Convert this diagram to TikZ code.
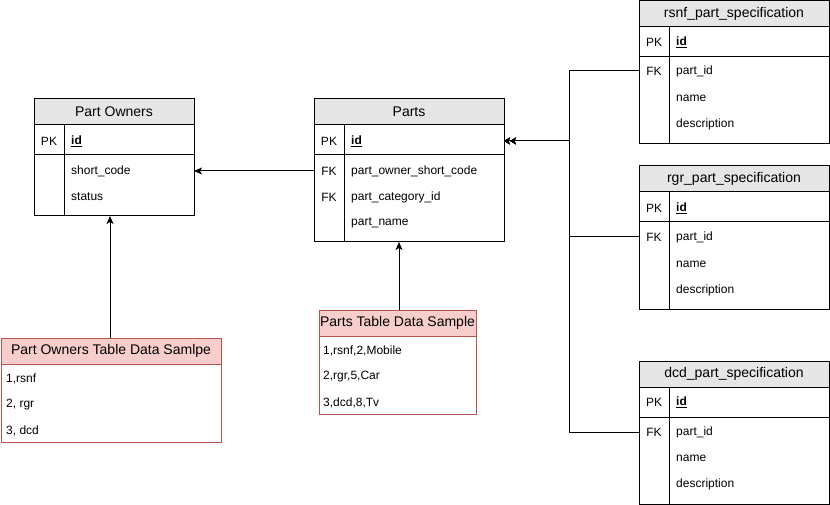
\documentclass[tikz,border=0pt]{standalone}
\usepackage{fontspec}
\setmainfont{Liberation Sans}
\usetikzlibrary{arrows.meta}
\definecolor{hdrgray}{HTML}{E6E6E6}
\definecolor{pinkfill}{HTML}{F8CECC}
\definecolor{pinkline}{HTML}{B85450}
\tikzset{
  tbl/.style={draw, fill=white, line width=1pt, anchor=north west, inner sep=0pt, outer sep=0pt},
  hdr/.style={draw, fill=hdrgray, line width=1pt, anchor=north west, inner sep=0pt, outer sep=0pt, minimum height=26pt, font=\fontsize{14}{16}\selectfont},
  tline/.style={line width=1pt},
  keytxt/.style={font=\fontsize{12}{14}\selectfont, inner sep=0pt, anchor=center, yshift=-1pt},
  fld/.style={font=\fontsize{12}{14}\selectfont, inner sep=0pt, anchor=west, yshift=-1pt},
  sbox/.style={draw=pinkline, fill=white, line width=1pt, anchor=north west, inner sep=0pt, outer sep=0pt},
  shdr/.style={draw=pinkline, fill=pinkfill, line width=1pt, anchor=north west, inner sep=0pt, outer sep=0pt, minimum height=26pt, font=\fontsize{14}{16}\selectfont},
  arr/.style={line width=1pt, -{Stealth[length=8pt,width=7pt,inset=2pt]}},
  dblarr/.style={line width=1pt, -{Stealth[length=6pt,width=7pt,inset=1.5pt]Stealth[length=6pt,width=7pt,inset=1.5pt]}},
}
% #1 name, #2 x, #3 y, #4 width, #5 height, #6 title
\newcommand\ertable[6]{%
  \node[tbl, minimum width=#4pt, minimum height=#5pt] (#1) at (#2,#3) {};
  \node[hdr, minimum width=#4pt] (#1-title) at (#2,#3) {\raisebox{-1pt}{#6}};
  \draw[tline] (#2,#3+56) -- ++(#4,0);
  \draw[tline] (#2+30,#3+26) -- (#2+30,#3+#5);
}
% #1 name, #2 x, #3 y, #4 width, #5 height, #6 title
\newcommand\sampletable[6]{%
  \node[sbox, minimum width=#4pt, minimum height=#5pt] (#1) at (#2,#3) {};
  \node[shdr, minimum width=#4pt] (#1-title) at (#2,#3) {\raisebox{-1pt}{#6}};
}
\newcommand\pkid{\underline{\textbf{id}}}
\begin{document}
\begin{tikzpicture}[x=1pt,y=-1pt]
\path[use as bounding box, fill=white] (0,0) rectangle (830,505);

% Part Owners
\ertable{po}{34}{99}{160}{117}{Part Owners}
\node[keytxt] (po-k0) at (34+15,140) {PK};
\node[fld] (po-r0) at (34+37,140) {\pkid};
\node[fld] (po-r1) at (34+37,170) {short\_code};
\node[fld] (po-r2) at (34+37,196) {status};

% Parts
\ertable{pa}{314}{99}{190}{143}{Parts}
\node[keytxt] (pa-k0) at (314+15,140) {PK};
\node[fld] (pa-r0) at (314+37,140) {\pkid};
\node[keytxt] (pa-k1) at (314+15,170) {FK};
\node[fld] (pa-r1) at (314+37,170) {part\_owner\_short\_code};
\node[keytxt] (pa-k2) at (314+15,196) {FK};
\node[fld] (pa-r2) at (314+37,196) {part\_category\_id};
\node[fld] (pa-r3) at (314+37,222) {part\_name};

% rsnf
\ertable{rs}{639}{1}{190}{143}{rsnf\_part\_specification}
\node[keytxt] (rs-k0) at (639+15,41) {PK};
\node[fld] (rs-r0) at (639+37,41) {\pkid};
\node[keytxt] (rs-k1) at (639+15,70) {FK};
\node[fld] (rs-r1) at (639+37,70) {part\_id};
\node[fld] (rs-r2) at (639+37,97) {name};
\node[fld] (rs-r3) at (639+37,123) {description};

% rgr
\ertable{rg}{639}{166}{190}{143}{rgr\_part\_specification}
\node[keytxt] (rg-k0) at (639+15,207) {PK};
\node[fld] (rg-r0) at (639+37,207) {\pkid};
\node[keytxt] (rg-k1) at (639+15,236) {FK};
\node[fld] (rg-r1) at (639+37,236) {part\_id};
\node[fld] (rg-r2) at (639+37,263) {name};
\node[fld] (rg-r3) at (639+37,289) {description};

% dcd
\ertable{dc}{639}{361}{190}{143}{dcd\_part\_specification}
\node[keytxt] (dc-k0) at (639+15,401) {PK};
\node[fld] (dc-r0) at (639+37,401) {\pkid};
\node[keytxt] (dc-k1) at (639+15,431) {FK};
\node[fld] (dc-r1) at (639+37,431) {part\_id};
\node[fld] (dc-r2) at (639+37,457) {name};
\node[fld] (dc-r3) at (639+37,483) {description};

% Part Owners sample
\sampletable{pos}{1}{338}{220}{104}{Part Owners Table Data Samlpe}
\node[fld] (pos-r1) at (1+5,378) {1,rsnf};
\node[fld] (pos-r2) at (1+5,404) {2, rgr};
\node[fld] (pos-r3) at (1+5,430) {3, dcd};

% Parts sample
\sampletable{pas}{319}{310}{157}{104}{Parts Table Data Sample}
\node[fld] (pas-r1) at (319+4,350) {1,rsnf,2,Mobile};
\node[fld] (pas-r2) at (319+4,376) {2,rgr,5,Car};
\node[fld] (pas-r3) at (319+4,402) {3,dcd,8,Tv};

% connectors
\draw[arr] (pa.west |- pa-r1) -- (po.east |- pa-r1);
\draw[arr] (pos-title.north -| 110,0) -- (po.south -| 110,0);
\draw[arr] (pas-title.north -| 399,0) -- (pa.south -| 399,0);

\coordinate (bus) at (569,141);
\draw[dblarr] (rs.west |- rs-r1) -| (bus) -- (pa.east |- bus);
\draw[dblarr] (rg.west |- rg-r1) -| (bus) -- (pa.east |- bus);
\draw[dblarr] (dc.west |- dc-r1) -| (bus) -- (pa.east |- bus);
\end{tikzpicture}
\end{document}
